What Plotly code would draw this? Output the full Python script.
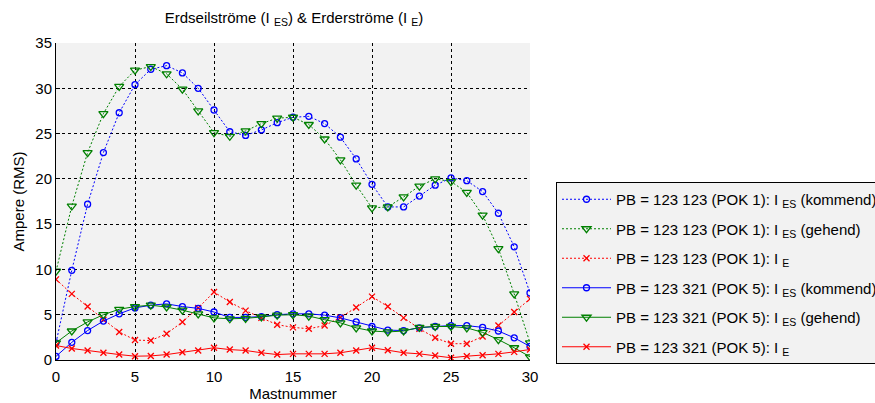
import plotly.graph_objects as go

# Mast numbers along the line
mast = list(range(0, 31))

# PB = 123 123 (POK 1)
pok1_ies_kommend = [1.9, 9.9, 17.2, 22.9, 27.3, 30.4, 32.1, 32.5, 31.7, 30.0, 27.6,
                    25.2, 24.8, 25.4, 26.2, 26.8, 26.9, 26.1, 24.6, 22.2, 19.4,
                    16.9, 16.9, 18.1, 19.3, 20.1, 19.8, 18.6, 16.2, 12.5, 7.4]
pok1_ies_gehend = [9.8, 17.0, 22.9, 27.2, 30.2, 32.0, 32.4, 31.6, 29.9, 27.5, 25.1,
                   24.7, 25.3, 26.1, 26.7, 26.8, 26.0, 24.4, 22.1, 19.3, 16.8,
                   16.9, 18.0, 19.2, 20.0, 19.7, 18.5, 16.0, 12.3, 7.3, 1.9]
pok1_ie = [8.9, 7.3, 5.9, 4.45, 3.1, 2.2, 2.15, 2.9, 4.2, 5.75, 7.5,
           6.4, 5.45, 4.65, 3.9, 3.6, 3.45, 3.8, 4.7, 5.8, 7.0,
           5.9, 4.65, 3.45, 2.45, 1.8, 1.8, 2.6, 3.8, 5.3, 6.75]

# PB = 123 321 (POK 5)
pok5_ies_kommend = [0.4, 1.95, 3.25, 4.3, 5.1, 5.75, 6.05, 6.2, 5.9, 5.7, 5.3,
                    4.7, 4.7, 4.8, 5.0, 5.1, 5.1, 4.95, 4.65, 4.2, 3.7,
                    3.3, 3.25, 3.55, 3.7, 3.8, 3.8, 3.6, 3.2, 2.45, 1.5]
pok5_ies_gehend = [1.9, 3.2, 4.2, 5.0, 5.6, 5.9, 6.05, 5.85, 5.5, 5.1, 4.65,
                   4.55, 4.6, 4.75, 4.95, 5.0, 4.85, 4.45, 4.1, 3.55, 3.2,
                   3.1, 3.2, 3.6, 3.7, 3.7, 3.55, 3.05, 2.25, 1.35, 0.35]
pok5_ie = [1.6, 1.27, 1.05, 0.8, 0.6, 0.42, 0.45, 0.6, 0.86, 1.05, 1.35,
           1.15, 1.05, 0.8, 0.6, 0.68, 0.68, 0.68, 0.8, 1.05, 1.35,
           1.08, 0.8, 0.68, 0.5, 0.25, 0.42, 0.53, 0.68, 0.9, 1.16]

series_names = [
    "PB = 123 123 (POK 1): I <sub>ES</sub> (kommend)",
    "PB = 123 123 (POK 1): I <sub>ES</sub> (gehend)",
    "PB = 123 123 (POK 1): I <sub>E</sub>",
    "PB = 123 321 (POK 5): I <sub>ES</sub> (kommend)",
    "PB = 123 321 (POK 5): I <sub>ES</sub> (gehend)",
    "PB = 123 321 (POK 5): I <sub>E</sub>",
]

BLUE, GREEN, RED = "#0000ff", "#008000", "#ff0000"
FONT = "Liberation Sans, Arial, sans-serif"
FS = 15

styles = [
    (pok1_ies_kommend, BLUE, "2px,2px", "circle-open", 6),
    (pok1_ies_gehend, GREEN, "2px,2px", "triangle-down-open", 8),
    (pok1_ie, RED, "2px,2px", "x-thin", 6),
    (pok5_ies_kommend, BLUE, "solid", "circle-open", 6),
    (pok5_ies_gehend, GREEN, "solid", "triangle-down-open", 8),
    (pok5_ie, RED, "solid", "x-thin", 6),
]

fig = go.Figure()
for i, ((vals, col, dash, sym, size), name) in enumerate(zip(styles, series_names)):
    fig.add_trace(go.Scatter(
        x=mast, y=vals, name=name, mode="lines+markers",
        legendgroup=f"g{i}",
        line=dict(color=col, width=1, dash=dash),
        marker=dict(symbol=sym, size=size, color=col,
                    line=dict(color=col, width=1.3)),
    ))

axis_common = dict(
    showline=True, linecolor="black", linewidth=1, mirror=False,
    ticks="inside", ticklen=4, tickcolor="black",
    showgrid=True, gridcolor="black", griddash="dot", gridwidth=1,
    zeroline=False,
    tickfont=dict(family=FONT, size=FS, color="black"),
)

fig.update_layout(
    width=875, height=403,
    margin=dict(l=56, r=345, t=43, b=43, autoexpand=False),
    paper_bgcolor="white",
    plot_bgcolor="#f2f2f2",
    font=dict(family=FONT, size=FS, color="black"),
    title=dict(
        text="Erdseilströme (I <sub>ES</sub>) & Erderströme (I <sub>E</sub>)",
        x=294 / 875, xanchor="center", xref="container",
        y=1 - 18 / 403, yanchor="middle", yref="container",
        font=dict(family=FONT, size=FS, color="black"),
    ),
    xaxis=dict(range=[0, 30], dtick=5, tick0=0, ticklabelstandoff=3,
               title=dict(text="Mastnummer", standoff=3,
                          font=dict(family=FONT, size=FS)),
               **axis_common),
    yaxis=dict(range=[0, 35], dtick=5, tick0=0,
               title=dict(text="Ampere (RMS)", standoff=7,
                          font=dict(family=FONT, size=FS)),
               **axis_common),
    showlegend=True,
    legend=dict(
        xref="container", yref="container",
        x=556 / 875, xanchor="left",
        y=1 - 182 / 403, yanchor="top",
        bgcolor="#f2f2f2", bordercolor="black", borderwidth=1,
        tracegroupgap=7, itemwidth=49,
        font=dict(family=FONT, size=FS, color="black"),
    ),
)

fig.write_html("out.html")
